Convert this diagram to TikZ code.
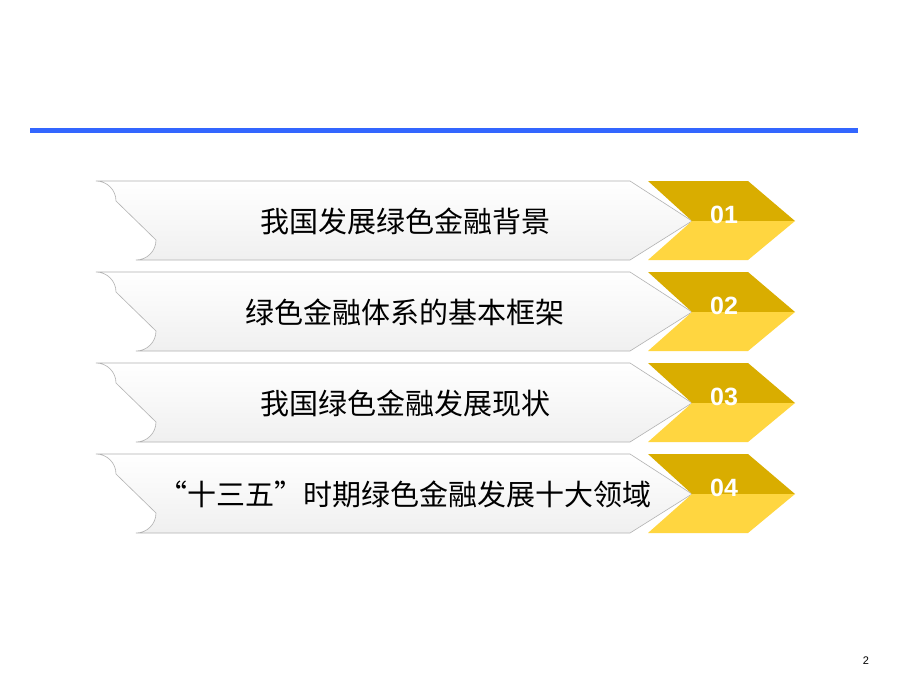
\documentclass[tikz,border=0pt]{standalone}
\usepackage{fontspec}
\newfontfamily\cjk{Noto Sans CJK SC}
\setmainfont{Liberation Sans}
\definecolor{gold}{HTML}{D9AD00}
\definecolor{lgold}{HTML}{FFD640}
\definecolor{blu}{HTML}{3366FF}
\tikzset{
  lbl/.style={font=\cjk\fontsize{29}{32}\selectfont, anchor=center},
  num/.style={font=\bfseries\fontsize{25}{27}\selectfont, text=white},
}
\begin{document}
\begin{tikzpicture}[x=1pt,y=-1pt]
\useasboundingbox (0,0) rectangle (920,690);
\fill[white] (0,0) rectangle (920,690);
\draw[blu, line width=5pt] (30,130) -- (858,130);
\foreach \t/\n/\i in {{我国发展绿色金融背景}/01/0,{绿色金融体系的基本框架}/02/1,{我国绿色金融发展现状}/03/2,{“十三五”时期绿色金融发展十大领域}/04/3}{
  \pgfmathsetmacro{\yt}{181+91*\i}
  \pgfmathsetmacro{\ym}{\yt+40}
  \pgfmathsetmacro{\yb}{\yt+79}
  \shade[top color=white, bottom color=gray!12, draw=gray!60, line width=0.6pt]
    (630,\yt) -- (692,\ym) -- (630,\yb) -- (136,\yb) arc[start angle=90,end angle=180,radius=-20pt] -- (116,\yt+20) arc[start angle=180,end angle=270,radius=-20pt] -- cycle;
  \fill[gold] (648,\yt) -- (748,\yt) -- (795,\ym) -- (692,\ym) -- cycle;
  \fill[lgold] (692,\ym) -- (795,\ym) -- (748,\yb) -- (648,\yb) -- cycle;
  \node[lbl] (t\i) at (405,\ym) {\t};
  \node[num] (n\i) at (724,\ym-6) {\n};
}
\node[font=\fontsize{11}{12}\selectfont] (pg) at (866,661) {2};
\end{tikzpicture}
\end{document}
